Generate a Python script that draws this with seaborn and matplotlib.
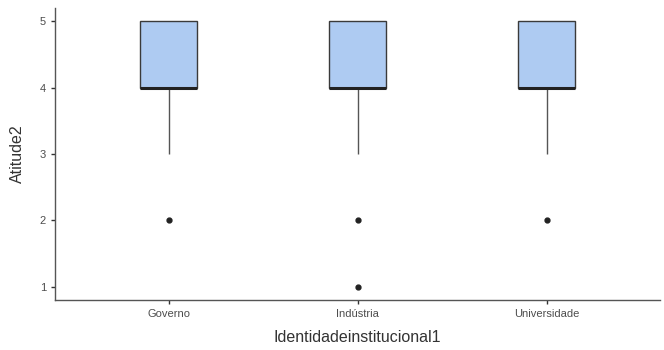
import numpy as np
import pandas as pd
import matplotlib
matplotlib.use("Agg")
import matplotlib.pyplot as plt
import seaborn as sns

categories = ["Governo", "Indústria", "Universidade"]
levels = [1, 2, 3, 4, 5]
# number of responses at each level 1..5 per category
counts_governo = [0, 1, 1, 4, 3]
counts_industria = [1, 1, 1, 6, 4]
counts_universidade = [0, 1, 1, 4, 3]
yticks = [1, 2, 3, 4, 5]

rows = []
for cat, cnts in zip(categories, [counts_governo, counts_industria, counts_universidade]):
    for lv, c in zip(levels, cnts):
        rows += [(cat, lv)] * c
df = pd.DataFrame(rows, columns=["Identidadeinstitucional1", "Atitude2"])

sns.set_style("white")
plt.rcParams["font.family"] = ["Liberation Sans", "DejaVu Sans"]

fig = plt.figure(figsize=(6.64, 3.5), dpi=100)
ax = fig.add_axes([0.083, 0.143, 0.911, 0.834])

sns.boxplot(
    data=df, x="Identidadeinstitucional1", y="Atitude2", order=categories,
    width=0.3, color="#aecbf2", saturation=1, showcaps=False, whis=1.5,
    boxprops=dict(edgecolor="#3a3a3a", linewidth=1.0),
    medianprops=dict(color="#222222", linewidth=2.2),
    whiskerprops=dict(color="#555555", linewidth=1.0),
    flierprops=dict(marker="o", markerfacecolor="#222222", markeredgecolor="#222222", markersize=3.5),
    ax=ax,
)

ax.set_xlim(-0.6, 2.6)
ax.set_ylim(0.8, 5.2)
ax.set_yticks(yticks)
ax.set_yticklabels([str(v) for v in yticks])
for s in ["top", "right"]:
    ax.spines[s].set_visible(False)
for s in ["left", "bottom"]:
    ax.spines[s].set_color("#555555")
    ax.spines[s].set_linewidth(1.0)
ax.tick_params(axis="both", which="both", length=3, width=1, color="#333333",
               labelsize=8, labelcolor="#4d4d4d", left=True, bottom=True)
ax.set_xlabel("Identidadeinstitucional1", fontsize=11.5, color="#333333", labelpad=8)
ax.set_ylabel("Atitude2", fontsize=11.5, color="#333333", labelpad=11)
ax.grid(False)

fig.savefig("out.png", dpi=100)
